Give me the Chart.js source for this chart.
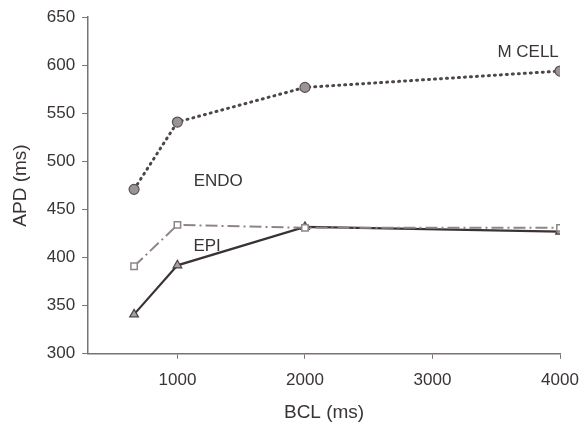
<!DOCTYPE html>
<html>
<head>
<meta charset="utf-8">
<script src="https://cdn.jsdelivr.net/npm/chart.js@4"></script>
<style>
  html, body { margin: 0; padding: 0; background: #fff; }
  #wrap { width: 582px; height: 428px; }
</style>
</head>
<body>
<div id="wrap"><canvas id="apd"></canvas></div>
<script>
// BCL values (ms) and APD per cell type (ms)
const bcl = [660, 1000, 2000, 4000];
const mCell = [471, 541, 577, 594];
const endo = [391, 434, 431, 431];
const epi = [341, 392, 432, 427];
const xTicks = [1000, 2000, 3000, 4000];

// text labels placed in data units
const labels = [
  { text: 'M CELL', x: 3750, y: 614 },
  { text: 'ENDO', x: 1320, y: 479 },
  { text: 'EPI', x: 1233, y: 412 }
];

const toPoints = ys => bcl.map((x, i) => ({ x: x, y: ys[i] }));

const labelPlugin = {
  id: 'seriesLabels',
  afterDatasetsDraw(chart) {
    const ctx = chart.ctx;
    const xs = chart.scales.x, ys = chart.scales.y;
    ctx.save();
    ctx.font = '17px "Liberation Sans", Arial, sans-serif';
    ctx.fillStyle = '#3a3434';
    ctx.textAlign = 'center';
    ctx.textBaseline = 'middle';
    labels.forEach(l => ctx.fillText(l.text, xs.getPixelForValue(l.x), ys.getPixelForValue(l.y)));
    ctx.restore();
  }
};

const axisColor = '#7d7171';
const tickFont = { family: '"Liberation Sans", Arial, sans-serif', size: 17 };
const titleFont = { family: '"Liberation Sans", Arial, sans-serif', size: 19 };

new Chart(document.getElementById('apd').getContext('2d'), {
  type: 'line',
  data: {
    datasets: [
      {
        label: 'M CELL',
        data: toPoints(mCell),
        borderColor: '#4e4646',
        borderWidth: 3,
        borderDash: [1, 5],
        borderCapStyle: 'round',
        pointStyle: 'circle',
        pointRadius: 5,
        pointBackgroundColor: '#9a9494',
        pointBorderColor: '#5a5252',
        pointBorderWidth: 1.2,
        tension: 0
      },
      {
        label: 'ENDO',
        data: toPoints(endo),
        borderColor: '#8f8585',
        borderWidth: 2,
        borderDash: [12, 4, 2, 4],
        pointStyle: 'rect',
        pointRadius: 4.5,
        pointBackgroundColor: '#ffffff',
        pointBorderColor: '#8f8585',
        pointBorderWidth: 1.5,
        tension: 0
      },
      {
        label: 'EPI',
        data: toPoints(epi),
        borderColor: '#3a3333',
        borderWidth: 2.2,
        pointStyle: 'triangle',
        pointRadius: 5,
        pointBackgroundColor: '#a8a0a0',
        pointBorderColor: '#4a4242',
        pointBorderWidth: 1.2,
        tension: 0
      }
    ]
  },
  options: {
    responsive: true,
    maintainAspectRatio: false,
    animation: false,
    layout: { padding: { top: 3, right: 0, bottom: 0, left: 5 } },
    plugins: {
      legend: { display: false },
      tooltip: { enabled: false }
    },
    scales: {
      x: {
        type: 'linear',
        min: 300,
        max: 4000,
        afterBuildTicks: axis => { axis.ticks = xTicks.map(v => ({ value: v })); },
        afterFit: axis => { axis.paddingRight = 22; axis.height -= 2; },
        grid: { drawOnChartArea: false, drawTicks: true, tickLength: 5, color: axisColor },
        border: { color: axisColor, width: 1.5 },
        ticks: { color: '#3a3434', font: tickFont, padding: 11, maxRotation: 0, callback: v => String(v) },
        title: { display: true, text: 'BCL (ms)', color: '#3a3434', font: titleFont, padding: { top: 2 } }
      },
      y: {
        min: 300,
        max: 650,
        ticks: { stepSize: 50, color: '#3a3434', font: tickFont, padding: 7 },
        grid: { drawOnChartArea: false, drawTicks: true, tickLength: 6, color: axisColor },
        border: { color: axisColor, width: 1.5 },
        title: { display: true, text: 'APD (ms)', color: '#3a3434', font: titleFont, padding: { bottom: 8 } }
      }
    }
  },
  plugins: [labelPlugin]
});
</script>
</body>
</html>
